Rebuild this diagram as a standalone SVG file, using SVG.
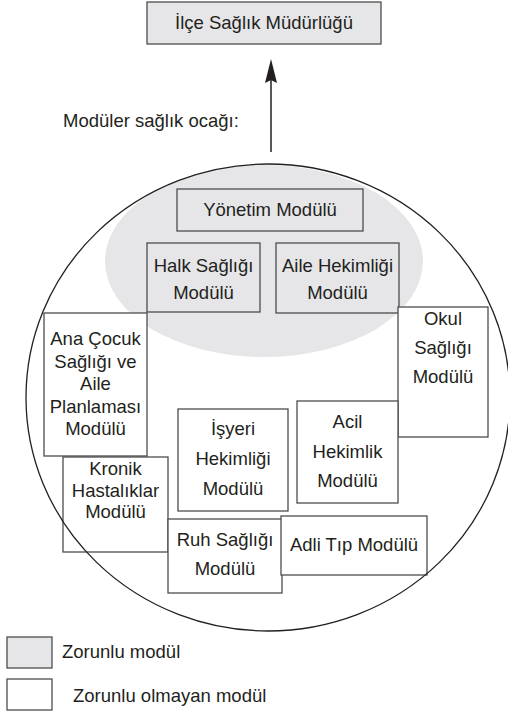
<svg xmlns="http://www.w3.org/2000/svg" width="508" height="714" viewBox="0 0 508 714">
<style>
text{font-family:"Liberation Sans",Arial,Helvetica,sans-serif;font-size:18.5px;fill:#231f20}
.c{text-anchor:middle}
.g{fill:#e6e6e8;stroke:#4d4d4d;stroke-width:1.3}
.w{fill:#ffffff;stroke:#4d4d4d;stroke-width:1.3}
</style>
<rect width="508" height="714" fill="#ffffff"/>
<g id="ilce">
<rect class="g" x="147" y="2" width="234" height="42"/>
<text class="c" x="264" y="29">İlçe Sağlık Müdürlüğü</text>
</g>
<g id="connectors">
<line x1="271" y1="152" x2="271" y2="78" stroke="#231f20" stroke-width="1.5"/>
<polygon points="271,59 277,83 271,80 265,83" fill="#231f20"/>
</g>
<text x="63" y="127">Modüler sağlık ocağı:</text>
<ellipse id="zorunlu-alan" cx="264" cy="261" rx="159" ry="96" fill="#e6e6e8"/>
<g id="yonetim">
<rect class="g" x="177" y="189" width="186" height="42"/>
<text class="c" x="270" y="216">Yönetim Modülü</text>
</g>
<g id="halk">
<rect class="g" x="147" y="243" width="113" height="69"/>
<text class="c" x="203.5" y="272">Halk Sağlığı</text>
<text class="c" x="203.5" y="299">Modülü</text>
</g>
<g id="aile-hekimligi">
<rect class="g" x="276" y="243" width="123" height="70"/>
<text class="c" x="337.5" y="272">Aile Hekimliği</text>
<text class="c" x="337.5" y="299">Modülü</text>
</g>
<g id="okul">
<rect class="w" x="398" y="307" width="90" height="130"/>
<text class="c" x="443" y="325">Okul</text>
<text class="c" x="443" y="354">Sağlığı</text>
<text class="c" x="443" y="383">Modülü</text>
</g>
<g id="ana-cocuk">
<rect class="w" x="44" y="313" width="103" height="143"/>
<text class="c" x="95.5" y="345">Ana Çocuk</text>
<text class="c" x="95.5" y="367.5">Sağlığı ve</text>
<text class="c" x="95.5" y="390">Aile</text>
<text class="c" x="95.5" y="412.5">Planlaması</text>
<text class="c" x="95.5" y="435">Modülü</text>
</g>
<g id="kronik">
<rect class="w" x="63" y="457" width="105" height="95"/>
<text class="c" x="115.5" y="475">Kronik</text>
<text class="c" x="115.5" y="497">Hastalıklar</text>
<text class="c" x="115.5" y="518">Modülü</text>
</g>
<g id="isyeri">
<rect class="w" x="178" y="409" width="110" height="102"/>
<text class="c" x="233" y="435">İşyeri</text>
<text class="c" x="233" y="465">Hekimliği</text>
<text class="c" x="233" y="495">Modülü</text>
</g>
<g id="acil">
<rect class="w" x="297" y="401" width="101" height="102"/>
<text class="c" x="347.5" y="428">Acil</text>
<text class="c" x="347.5" y="458">Hekimlik</text>
<text class="c" x="347.5" y="487">Modülü</text>
</g>
<g id="ruh">
<rect class="w" x="168" y="519" width="114" height="74"/>
<text class="c" x="225" y="546">Ruh Sağlığı</text>
<text class="c" x="225" y="575">Modülü</text>
</g>
<g id="adli">
<rect class="w" x="281" y="516" width="146" height="59"/>
<text class="c" x="354" y="551">Adli Tıp Modülü</text>
</g>
<ellipse id="saglik-ocagi" cx="268" cy="397.5" rx="242" ry="233.5" fill="none" stroke="#231f20" stroke-width="1.3"/>
<g id="legend-zorunlu">
<rect class="g" x="7" y="637" width="45" height="31"/>
<text x="62" y="658">Zorunlu modül</text>
</g>
<g id="legend-zorunlu-olmayan">
<rect class="w" x="7" y="679" width="45" height="31"/>
<text x="73" y="702">Zorunlu olmayan modül</text>
</g>
</svg>
